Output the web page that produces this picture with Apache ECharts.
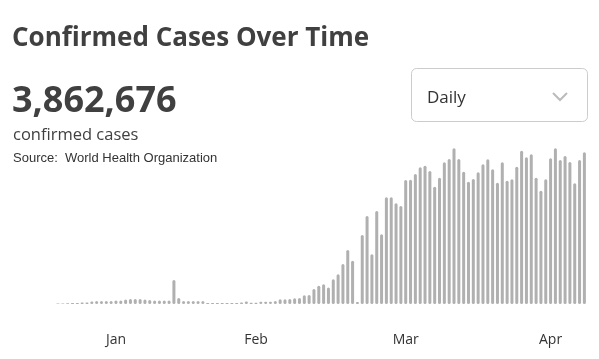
<!DOCTYPE html>
<html>
<head>
<meta charset="utf-8">
<script src="https://cdn.jsdelivr.net/npm/echarts@6/dist/echarts.min.js"></script>
<style>
  html, body { margin: 0; padding: 0; background: #ffffff; }
  #chart { width: 599px; height: 359px; }
</style>
</head>
<body>
<div id="chart"></div>
<script>
// Dates (daily, 2020)
var dates = [
  "1/20","1/21","1/22","1/23","1/24","1/25","1/26","1/27","1/28","1/29","1/30","1/31",
  "2/1","2/2","2/3","2/4","2/5","2/6","2/7","2/8","2/9","2/10","2/11","2/12","2/13","2/14","2/15",
  "2/16","2/17","2/18","2/19","2/20","2/21","2/22","2/23","2/24","2/25","2/26","2/27","2/28","2/29",
  "3/1","3/2","3/3","3/4","3/5","3/6","3/7","3/8","3/9","3/10","3/11","3/12","3/13","3/14","3/15",
  "3/16","3/17","3/18","3/19","3/20","3/21","3/22","3/23","3/24","3/25","3/26","3/27","3/28","3/29",
  "3/30","3/31",
  "4/1","4/2","4/3","4/4","4/5","4/6","4/7","4/8","4/9","4/10","4/11","4/12","4/13","4/14","4/15",
  "4/16","4/17","4/18","4/19","4/20","4/21","4/22","4/23","4/24","4/25","4/26","4/27","4/28","4/29","4/30",
  "5/1","5/2","5/3","5/4","5/5","5/6","5/7","5/8"
];

// Daily confirmed cases
var dailyCases = [
  300, 300, 420, 600, 600, 900, 900, 1500, 1800, 1800, 1800, 1800,
  2100, 2100, 2700, 3000, 3000, 3000, 2700, 2400, 2100, 2100, 2100, 2100, 14400, 3600, 1800,
  1800, 1800, 1800, 1800, 600, 600, 600, 600, 600, 600, 600, 900, 1500, 780,
  780, 1380, 1380, 1380, 1800, 2820, 2820, 3000, 3420, 3600, 5220, 5400, 9000, 10980, 11820,
  9900, 14820, 17820, 24000, 32400, 25980, 1200, 41400, 52800, 29820, 55800, 41820, 64020, 64020,
  60420, 58800,
  74400, 74580, 78000, 82020, 82980, 79800, 70380, 75780, 85020, 87000, 93420, 87000, 79380, 73380, 75000,
  79020, 83820, 86820, 80820, 72780, 85020, 73980, 74820, 82380, 91980, 88020, 89820, 75780, 67980, 74820,
  87420, 93420, 86400, 88800, 85200, 72420, 86400, 91020
];

// Tick labels: where they sit (category) and what they say
var tickDates = ["2/1", "3/1", "4/1", "5/1"];
var tickTexts = ["Jan", "Feb", "Mar", "Apr"];

var titleText = "Confirmed Cases Over Time";
var totalText = "3,862,676";
var subText = "confirmed cases";
var sourceText = "Source:  World Health Organization";
var selectText = "Daily";

var chart = echarts.init(document.getElementById('chart'), null, { renderer: 'canvas' });

var textColor = '#404040';

var option = {
  backgroundColor: '#ffffff',
  animation: false,
  grid: { left: 55.6, right: 12.2, top: 137.33, bottom: 55 },
  xAxis: {
    type: 'category',
    data: dates,
    boundaryGap: true,
    axisLine: { show: false },
    axisTick: { show: false },
    splitLine: { show: false },
    axisLabel: {
      interval: function (idx, val) { return tickDates.indexOf(val) >= 0; },
      formatter: function (val) {
        var i = tickDates.indexOf(val);
        return i >= 0 ? tickTexts[i] : '';
      },
      color: '#333333',
      fontFamily: 'Open Sans',
      fontSize: 14,
      margin: 29
    }
  },
  yAxis: {
    type: 'value',
    min: 0,
    max: 100000,
    show: false,
    splitLine: { show: false }
  },
  series: [{
    type: 'bar',
    data: dailyCases,
    barWidth: 3,
    itemStyle: { color: '#b0b0b0', borderRadius: 1.5 },
    silent: true
  }],
  graphic: [
    {
      type: 'text', left: 12, top: 26,
      style: { text: titleText, fill: textColor, font: 'bold 26px "Open Sans"' }
    },
    {
      type: 'text', left: 12, top: 84,
      style: { text: totalText, fill: textColor, font: 'bold 36px "Open Sans"' }
    },
    {
      type: 'text', left: 13, top: 127,
      style: { text: subText, fill: textColor, font: '16.5px "Open Sans"' }
    },
    {
      type: 'text', left: 13, top: 152,
      style: { text: sourceText, fill: '#333333', font: '13px "Liberation Sans"' }
    },
    {
      type: 'rect', shape: { x: 411.5, y: 68.5, width: 176, height: 53, r: 5 },
      style: { fill: '#ffffff', stroke: '#cccccc', lineWidth: 1 }
    },
    {
      type: 'text', left: 427, top: 90,
      style: { text: selectText, fill: '#333333', font: '17px "Open Sans"' }
    },
    {
      type: 'polyline',
      shape: { points: [[553, 93], [560, 100], [567, 93]] },
      style: { stroke: '#bbbbbb', lineWidth: 2, fill: null }
    }
  ]
};

chart.setOption(option);
</script>
</body>
</html>
